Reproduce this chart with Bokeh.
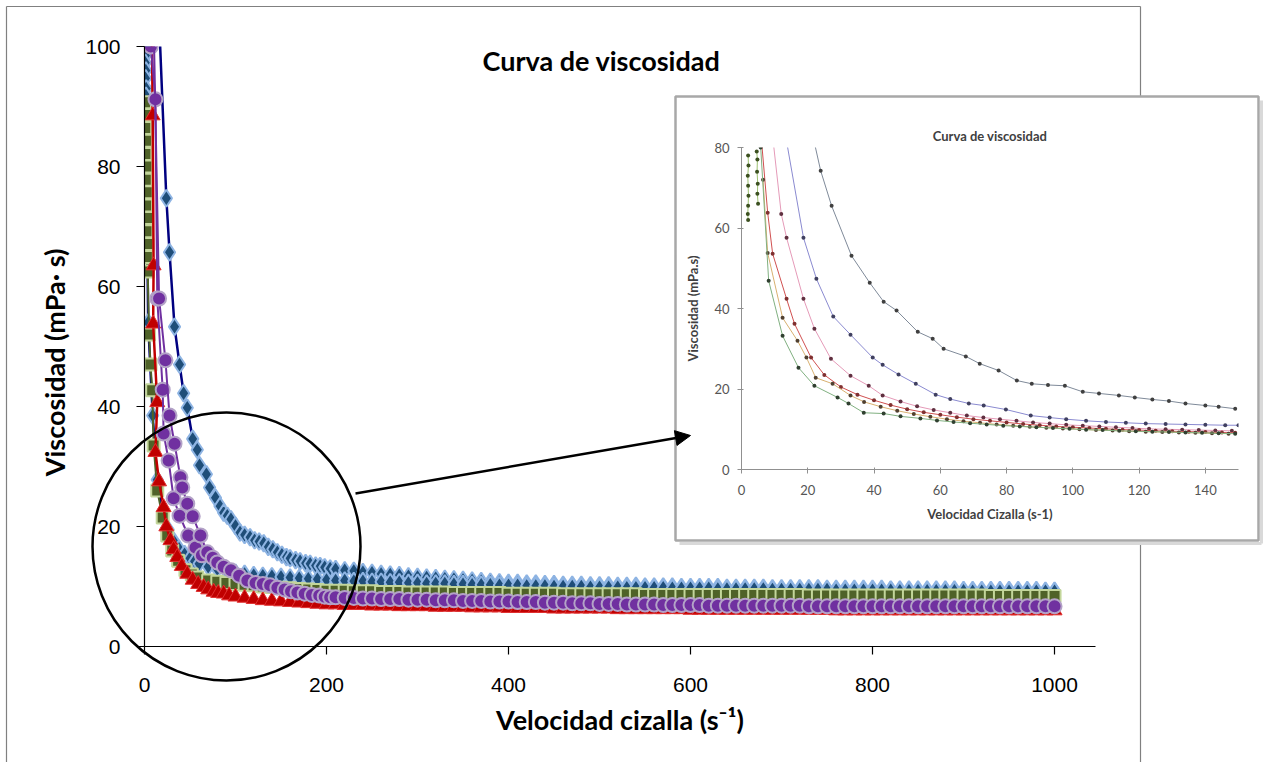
import math
from bokeh.plotting import figure
from bokeh.models import Range1d, Arrow, NormalHead, FixedTicker
from bokeh.core.properties import value
from bokeh.embed import file_html
from bokeh.resources import INLINE

# ---------------- main chart data ----------------
TITLE = "Curva de viscosidad"
X_LABEL = "Velocidad cizalla (s\u207b\u00b9)"
Y_LABEL = "Viscosidad (mPa\u00b7 s)"
X_TICKS = [0, 200, 400, 600, 800, 1000]
Y_TICKS = [0, 20, 40, 60, 80, 100]

# shared shear-rate grid of the dense part of the curves (s-1)
X_GRID = [60, 70, 80, 90, 100, 110, 120, 130, 140, 150,
          160, 170, 180, 190, 200, 210, 220, 230, 240, 250,
          260, 270, 280, 290, 300, 310, 320, 330, 340, 350,
          360, 370, 380, 390, 400, 410, 420, 430, 440, 450,
          460, 470, 480, 490, 500, 510, 520, 530, 540, 550,
          560, 570, 580, 590, 600, 610, 620, 630, 640, 650,
          660, 670, 680, 690, 700, 710, 720, 730, 740, 750,
          760, 770, 780, 790, 800, 810, 820, 830, 840, 850,
          860, 870, 880, 890, 900, 910, 920, 930, 940, 950,
          960, 970, 980, 990, 1000]

# blue series 1 (upper curve)
B1_X_LOW = [14, 24, 27.5, 33, 38.5, 43, 47, 53, 58, 60.5, 68, 71.5, 78, 83, 87, 91, 95,
            100, 105, 110, 116, 121, 126, 131, 136, 141, 146, 151, 156, 160, 166, 171,
            177, 182, 188, 193, 198, 204, 210]
B1_Y_LOW = [112, 74.7, 65.7, 53.3, 47.0, 42.2, 39.8, 34.6, 32.8, 30.2, 28.7, 26.5, 24.8,
            23.4, 22.3, 21.8, 21.2, 20.1, 19.0, 18.6, 18.2, 17.7, 17.5, 17.2, 16.6, 16.2,
            15.7, 15.3, 14.9, 14.7, 14.4, 14.2, 13.9, 13.8, 13.5, 13.4, 13.2, 13.0, 12.9]
B1_Y_TAIL = [12.7, 12.6, 12.4, 12.3, 12.1, 12.0, 11.9, 11.7, 11.6,
             11.5, 11.4, 11.3, 11.2, 11.1, 11.0, 10.9, 10.8, 10.7, 10.6,
             10.6, 10.5, 10.5, 10.4, 10.4, 10.3, 10.3, 10.3, 10.2, 10.2,
             10.2, 10.1, 10.1, 10.1, 10.0, 10.0, 10.0, 10.0, 9.9, 9.9,
             9.9, 9.9, 9.9, 9.8, 9.8, 9.8, 9.8, 9.8, 9.7, 9.7,
             9.7, 9.7, 9.7, 9.7, 9.6, 9.6, 9.6, 9.6, 9.6, 9.6,
             9.6, 9.5, 9.5, 9.5, 9.5, 9.5, 9.5, 9.5, 9.5, 9.4,
             9.4, 9.4, 9.4, 9.4, 9.4, 9.4, 9.4, 9.4, 9.3, 9.3]

# blue series 2 (lower curve)
B2_X_LOW = [0.6, 1.0, 0.8, 1.4, 1.1, 1.8, 1.5, 4, 9, 14, 20, 26, 32, 38, 44, 50, 55, 60]
B2_Y_LOW = [100, 98.5, 97.3, 96.0, 94.7, 93.0, 91.8, 54.0, 38.5, 27.8, 22.5, 19.5, 17.6,
            16.3, 15.4, 14.7, 14.2, 13.8]
B2_Y_TAIL = [13.3, 12.9, 12.6, 12.3, 12.1, 11.9, 11.8, 11.7, 11.6, 11.5, 11.4, 11.3, 11.2, 11.1,
             11.0, 11.0, 10.9, 10.9, 10.8, 10.8, 10.7, 10.7, 10.6, 10.6,
             10.5, 10.5, 10.5, 10.4, 10.4, 10.3, 10.3, 10.3, 10.2, 10.2,
             10.2, 10.1, 10.1, 10.1, 10.0, 10.0, 10.0, 10.0, 9.9, 9.9,
             9.9, 9.9, 9.8, 9.8, 9.8, 9.8, 9.8, 9.7, 9.7, 9.7,
             9.7, 9.7, 9.6, 9.6, 9.6, 9.6, 9.6, 9.6, 9.5, 9.5,
             9.5, 9.5, 9.5, 9.5, 9.5, 9.4, 9.4, 9.4, 9.4, 9.4,
             9.4, 9.4, 9.3, 9.3, 9.3, 9.3, 9.3, 9.3, 9.3, 9.3,
             9.2, 9.2, 9.2, 9.2, 9.2, 9.2, 9.2, 9.2, 9.2, 9.2]

# green series
G_X_LOW = [0.5, 1.2, 0.8, 1.6, 1.0, 2.0, 1.4, 2.4, 1.8, 2.8, 2.2, 3.2, 2.6, 3.6,
           5, 6.6, 8.5, 10, 14, 20, 25, 30.5, 37, 45, 52, 58]
G_Y_LOW = [90.7, 88.6, 86.4, 84.3, 82.1, 80.0, 77.8, 75.7, 73.5, 71.4, 69.2, 67.1, 64.9, 62.5,
           52.0, 47.0, 42.7, 33.5, 26.0, 21.5, 18.5, 16.0, 14.3, 12.7, 12.0, 11.5]
G_Y_TAIL = [11.0, 10.8, 10.6, 10.4, 10.3, 10.2, 10.0, 9.9, 9.8, 9.7, 9.6, 9.5, 9.4, 9.3,
            9.3, 9.3, 9.2, 9.2, 9.2, 9.1, 9.1, 9.1, 9.0, 9.0,
            9.0, 9.0, 9.0, 8.9, 8.9, 8.9, 8.9, 8.9, 8.9, 8.8,
            8.8, 8.8, 8.8, 8.8, 8.8, 8.7, 8.7, 8.7, 8.7, 8.7,
            8.7, 8.7, 8.7, 8.7, 8.6, 8.6, 8.6, 8.6, 8.6, 8.6,
            8.6, 8.6, 8.6, 8.6, 8.6, 8.6, 8.6, 8.6, 8.6, 8.6,
            8.6, 8.6, 8.5, 8.5, 8.5, 8.5, 8.5, 8.5, 8.5, 8.5,
            8.5, 8.5, 8.5, 8.5, 8.5, 8.5, 8.5, 8.5, 8.5, 8.5,
            8.5, 8.5, 8.4, 8.4, 8.4, 8.4, 8.4, 8.4, 8.4, 8.4]

# red series
R_X_LOW = [8, 9, 10, 9.5, 14, 12, 16, 21, 24, 28.5, 32, 36, 41, 47, 53, 59, 65, 70, 76, 81,
           87, 93, 100]
R_Y_LOW = [104, 88.5, 63.5, 53.8, 40.7, 32.4, 27.5, 23.2, 20.0, 17.7, 16.2, 14.9, 13.4, 12.1,
           11.1, 10.4, 9.9, 9.5, 9.1, 8.9, 8.8, 8.5, 8.3]
R_Y_TAIL = [8.1, 7.9, 7.7, 7.6, 7.5, 7.4, 7.3, 7.2, 7.1, 7.0,
            7.0, 6.9, 6.9, 6.9, 6.8, 6.8, 6.8, 6.7, 6.7, 6.7,
            6.7, 6.6, 6.6, 6.6, 6.6, 6.5, 6.5, 6.5, 6.5, 6.4,
            6.4, 6.4, 6.4, 6.4, 6.3, 6.3, 6.3, 6.3, 6.3, 6.3,
            6.3, 6.2, 6.2, 6.2, 6.2, 6.2, 6.2, 6.2, 6.2, 6.1,
            6.1, 6.1, 6.1, 6.1, 6.1, 6.1, 6.1, 6.1, 6.1, 6.1,
            6.1, 6.1, 6.1, 6.1, 6.1, 6.0, 6.0, 6.0, 6.0, 6.0,
            6.0, 6.0, 6.0, 6.0, 6.0, 6.0, 6.0, 6.0, 6.0, 6.0,
            6.0, 6.0, 6.0, 6.0, 6.0, 6.0, 6.0, 6.0, 6.0, 6.0]

# purple series 1 (short)
P1_X = [7, 12, 14, 20, 21, 26.5, 32, 38.5, 48, 56, 63]
P1_Y = [100, 91.2, 58.0, 42.8, 35.5, 31.0, 24.7, 21.8, 18.5, 16.5, 15.2]

# purple series 2
P2_X_LOW = [9, 16, 23, 27.5, 33, 39.5, 41.5, 47, 53, 61.5, 69, 75, 80, 87, 95, 104, 113,
            122, 130, 138, 146, 154, 161, 168, 176, 184, 192, 198, 204]
P2_Y_LOW = [112, 58.0, 47.7, 38.5, 33.8, 28.2, 26.5, 23.8, 21.7, 18.5, 15.7, 14.8, 14.0,
            13.3, 12.7, 11.8, 11.0, 10.6, 10.4, 10.2, 9.8, 9.5, 9.2, 9.0, 8.8, 8.6, 8.5,
            8.3, 8.2]
P2_Y_TAIL = [8.2, 8.1, 8.1, 8.0, 8.0, 7.9, 7.9, 7.9, 7.8, 7.8,
             7.8, 7.7, 7.7, 7.7, 7.6, 7.6, 7.6, 7.5, 7.5, 7.5,
             7.4, 7.4, 7.4, 7.3, 7.3, 7.3, 7.2, 7.2, 7.2, 7.1,
             7.1, 7.1, 7.0, 7.0, 7.0, 7.0, 6.9, 6.9, 6.9, 6.9,
             6.9, 6.8, 6.8, 6.8, 6.8, 6.8, 6.8, 6.8, 6.8, 6.8,
             6.8, 6.8, 6.7, 6.7, 6.7, 6.7, 6.7, 6.7, 6.7, 6.7,
             6.7, 6.7, 6.7, 6.7, 6.7, 6.7, 6.7, 6.7, 6.7, 6.7,
             6.7, 6.7, 6.7, 6.7, 6.7, 6.7, 6.7, 6.7, 6.7, 6.7]

# ---------------- inset chart data ----------------
IN_TITLE = "Curva de viscosidad"
IN_X_LABEL = "Velocidad Cizalla (s-1)"
IN_Y_LABEL = "Viscosidad (mPa.s)"
IN_X_TICKS = [0, 20, 40, 60, 80, 100, 120, 140]
IN_Y_TICKS = [0, 20, 40, 60, 80]

I1_X = [21.5, 23.9, 27.2, 33.2, 38.7, 42.9, 46.8, 53.2, 57.7, 61, 67.7, 71.9, 77.6, 83.1,
        87.6, 92.5, 97.6, 103, 107.9, 113.9, 118.7, 124, 129, 134, 140, 144, 149]
I1_Y = [83, 74.2, 65.5, 53.1, 46.4, 41.7, 39.5, 34.2, 32.5, 30.0, 28.1, 26.3, 24.6, 22.1,
        21.3, 21.0, 20.8, 19.3, 18.9, 18.4, 17.9, 17.4, 17.0, 16.4, 15.9, 15.6, 15.1]
I2_X = [13.5, 18.7, 22.6, 27.7, 32.9, 39.6, 42.6, 47.4, 52.6, 58.6, 63, 68.6, 73.1, 79.8,
        87.3, 93, 98, 104, 110, 116, 122, 128, 134, 140, 146, 150]
I2_Y = [82, 57.6, 47.4, 38.0, 33.5, 27.8, 26.0, 23.6, 21.3, 18.6, 17.5, 16.4, 15.9, 14.9,
        13.4, 12.9, 12.5, 12.1, 11.8, 11.6, 11.4, 11.3, 11.2, 11.1, 11.0, 11.0]
I3_X = [9.5, 12, 13.6, 18.7, 22, 27, 32.9, 38.4, 42.6, 48, 53, 58, 63, 68, 73, 78, 83, 88,
        93, 98, 103, 108, 113, 118, 123, 128, 133, 138, 143, 148]
I3_Y = [82, 63.5, 57.6, 42.4, 35.0, 27.5, 23.3, 20.8, 18.4, 16.9, 15.7, 14.8, 14.1, 13.4,
        12.9, 12.5, 12.1, 11.7, 11.4, 11.1, 10.9, 10.7, 10.5, 10.3, 10.1, 10.0, 9.9, 9.8,
        9.7, 9.6]
I4_X = [6, 7.9, 9.4, 13.6, 16, 21, 25, 30, 35, 40, 45, 50, 55, 60, 65, 70, 75, 80, 85, 90,
        95, 100, 105, 110, 115, 120, 125, 130, 135, 140, 145, 149]
I4_Y = [82, 63.8, 53.6, 42.4, 36.2, 27.8, 23.5, 20.5, 18.6, 17.2, 16.0, 15.0, 14.2, 13.6,
        13.0, 12.5, 12.1, 11.7, 11.3, 11.0, 10.7, 10.5, 10.3, 10.1, 9.9, 9.8, 9.6, 9.5,
        9.4, 9.3, 9.2, 9.1]
I5_X = [6.5, 7.9, 12.4, 16.9, 19.6, 22.4, 27.5, 32.9, 37, 42, 47, 52, 57, 62, 67, 72, 77,
        82, 87, 92, 97, 102, 107, 112, 117, 122, 127, 132, 137, 142, 147]
I5_Y = [72, 53.8, 37.7, 32.0, 27.8, 22.8, 21.3, 18.4, 16.8, 15.6, 14.6, 13.8, 13.1, 12.5,
        12.0, 11.6, 11.2, 10.9, 10.6, 10.4, 10.2, 10.0, 9.8, 9.7, 9.5, 9.4, 9.3, 9.2, 9.1,
        9.0, 8.9]
I6_X = [5.8, 8.2, 12.4, 17.2, 22, 29, 32.3, 36.9, 42.9, 48, 54, 59, 64, 69, 74, 79, 84, 89,
        94, 99, 104, 109, 114, 119, 124, 129, 134, 139, 144, 149]
I6_Y = [80, 46.9, 33.2, 25.3, 20.8, 17.9, 16.4, 14.1, 13.9, 13.2, 12.7, 12.2, 11.8, 11.5,
        11.2, 10.9, 10.7, 10.5, 10.3, 10.1, 9.9, 9.8, 9.6, 9.5, 9.4, 9.3, 9.2, 9.1, 9.0, 8.9]
I7_X = [2.0, 2.1, 1.9, 2.0, 2.1, 2.0, 1.9, 2.0]
I7_Y = [78, 75.5, 73, 70.5, 68, 65.5, 63.5, 62]
I8_X = [4.6, 4.8, 4.7, 4.9, 4.8, 5.0]
I8_Y = [79, 77, 74, 71, 68.5, 66]

# ---------------- main figure ----------------
main = figure(width=1267, height=762, x_range=Range1d(0, 1045), y_range=Range1d(0, 100),
              min_border_left=144, min_border_right=172, min_border_top=46,
              min_border_bottom=116, output_backend="svg", toolbar_location=None)
main.outline_line_color = None
main.grid.visible = False
main.xaxis.ticker = FixedTicker(ticks=X_TICKS)
main.yaxis.ticker = FixedTicker(ticks=Y_TICKS)
main.xaxis.axis_label = X_LABEL
for ax in (main.xaxis[0], main.yaxis[0]):
    ax.major_tick_out = 8
    ax.major_tick_in = 0
    ax.minor_tick_out = 0
    ax.minor_tick_in = 0
    ax.axis_line_color = "#000000"
    ax.axis_line_width = 1.2
    ax.major_tick_line_color = "#000000"
    ax.major_tick_line_width = 1.2
    ax.major_label_text_font = "Liberation Sans"
    ax.major_label_text_font_size = "21px"
    ax.major_label_text_color = "#000000"
    ax.axis_label_text_font = "Lato"
    ax.axis_label_text_font_style = "bold"
    ax.axis_label_text_font_size = "27px"
    ax.axis_label_text_color = "#000000"
main.xaxis.major_label_standoff = 23
main.xaxis.axis_label_standoff = 8
main.yaxis.major_label_standoff = 16


def draw(xs, ys, lc, lw, marker, size, fc, ec, ew):
    main.line(xs, ys, line_color=lc, line_width=lw)
    main.scatter(xs, ys, marker=marker, size=size, fill_color=fc, line_color=ec, line_width=ew)


b1_x = B1_X_LOW + X_GRID[-len(B1_Y_TAIL):]
b2_x = B2_X_LOW + X_GRID[-len(B2_Y_TAIL):]
g_x = G_X_LOW + X_GRID[-len(G_Y_TAIL):]
r_x = R_X_LOW + X_GRID[-len(R_Y_TAIL):]
p2_x = P2_X_LOW + X_GRID[-len(P2_Y_TAIL):]

draw(b1_x, B1_Y_LOW + B1_Y_TAIL, "#000080", 2.5, "diamond", 17, "#1F4E79", "#8EB4E3", 2)
draw(b2_x, B2_Y_LOW + B2_Y_TAIL, "#000080", 2.5, "diamond", 17, "#1F4E79", "#8EB4E3", 2)
draw(g_x, G_Y_LOW + G_Y_TAIL, "#4F6228", 2, "square", 12, "#4F6228", "#C3D69B", 2)
draw(r_x, R_Y_LOW + R_Y_TAIL, "#C00000", 2.5, "triangle", 15, "#C00000", "#E03030", 1)
draw(P1_X, P1_Y, "#7030A0", 2, "circle", 14, "#7030A0", "#B3A2C7", 2)
draw(p2_x, P2_Y_LOW + P2_Y_TAIL, "#7030A0", 2, "circle", 14, "#7030A0", "#B3A2C7", 2)

# ---------------- inset figure ----------------
inset = figure(width=583, height=444, x_range=Range1d(0, 150), y_range=Range1d(0, 80),
               min_border_left=66, min_border_right=20, min_border_top=51,
               min_border_bottom=71, output_backend="svg", toolbar_location=None)
inset.outline_line_color = None
inset.grid.visible = False
inset.title.text = IN_TITLE
inset.title.align = "center"
inset.title.offset = 10
inset.title.text_font = "Lato"
inset.title.text_font_style = "bold"
inset.title.text_font_size = "13px"
inset.title.text_color = "#404040"
inset.title.standoff = 8
inset.xaxis.ticker = FixedTicker(ticks=IN_X_TICKS)
inset.yaxis.ticker = FixedTicker(ticks=IN_Y_TICKS)
inset.xaxis.axis_label = IN_X_LABEL
inset.yaxis.axis_label = IN_Y_LABEL
for ax in (inset.xaxis[0], inset.yaxis[0]):
    ax.major_tick_out = 4
    ax.major_tick_in = 2
    ax.minor_tick_out = 0
    ax.minor_tick_in = 0
    ax.axis_line_color = "#909090"
    ax.major_tick_line_color = "#909090"
    ax.major_label_text_font = "Lato"
    ax.major_label_text_font_size = "13px"
    ax.major_label_text_color = "#555555"
    ax.axis_label_text_font = "Lato"
    ax.axis_label_text_font_style = "bold"
    ax.axis_label_text_font_size = "13px"
    ax.axis_label_text_color = "#404040"
inset.xaxis.major_label_standoff = 11
inset.xaxis.axis_label_standoff = 8
inset.yaxis.major_label_standoff = 8
inset.yaxis.axis_label_standoff = 10

inset_series = [
    (I1_X, I1_Y, "#7f8a99", "#404040"),
    (I2_X, I2_Y, "#8a8ad0", "#404060"),
    (I3_X, I3_Y, "#e59ab8", "#603040"),
    (I4_X, I4_Y, "#d05050", "#803030"),
    (I5_X, I5_Y, "#d8b070", "#504030"),
    (I6_X, I6_Y, "#80b080", "#304030"),
    (I7_X, I7_Y, "#9cc070", "#3c5020"),
    (I8_X, I8_Y, "#9cc070", "#3c5020"),
]
for xs, ys, lc, mc in inset_series:
    inset.line(xs, ys, line_color=lc, line_width=1)
    inset.scatter(xs, ys, marker="circle", size=4, fill_color=mc, line_color=None)

# ---------------- overlay: frame, circle, arrow, title ----------------
over = figure(width=1267, height=762, x_range=Range1d(0, 1267), y_range=Range1d(762, 0),
              min_border=0, x_axis_type=None, y_axis_type=None,
              output_backend="svg", toolbar_location=None)
over.grid.visible = False
over.outline_line_color = None
over.background_fill_alpha = 0
over.border_fill_alpha = 0
# outer chart border
over.segment(x0=[6, 6, 1140, 1140], y0=[6, 6, 6, 543], x1=[1140, 6, 1140, 1140],
             y1=[6, 762, 96, 762], line_color="#808080", line_width=1.2)
# inset border + shadow
over.segment(x0=[1261, 679], y0=[100, 543], x1=[1261, 1261], y1=[543, 543],
             line_color="#d9d9d9", line_width=3)
over.quad(left=[675], right=[1258], top=[96], bottom=[540], fill_color=None,
          line_color="#a8a8a8", line_width=2.5)
# highlight circle
over.ellipse(x=[226], y=[546], width=[268], height=[268], fill_color=None,
             line_color="#000000", line_width=2.5)
over.add_layout(Arrow(end=NormalHead(size=15, fill_color="#000000", line_color="#000000"),
                      x_start=355, y_start=493, x_end=690, y_end=435,
                      line_color="#000000", line_width=2.5))
# chart title and vertical axis title
over.text(x=[601], y=[60], text=[TITLE], text_font=value("Lato"), text_font_style="bold",
          text_font_size="27px", text_align="center", text_baseline="middle",
          text_color="#000000")
over.text(x=[54], y=[362], text=[Y_LABEL], angle=math.pi / 2, text_font=value("Lato"),
          text_font_style="bold", text_font_size="27px", text_align="center",
          text_baseline="middle", text_color="#000000")

main.styles = {"position": "absolute", "left": "0px", "top": "0px"}
inset.styles = {"position": "absolute", "left": "675px", "top": "96px"}
over.styles = {"position": "absolute", "left": "0px", "top": "0px"}

open("out.html", "w").write(file_html([main, inset, over], INLINE))
